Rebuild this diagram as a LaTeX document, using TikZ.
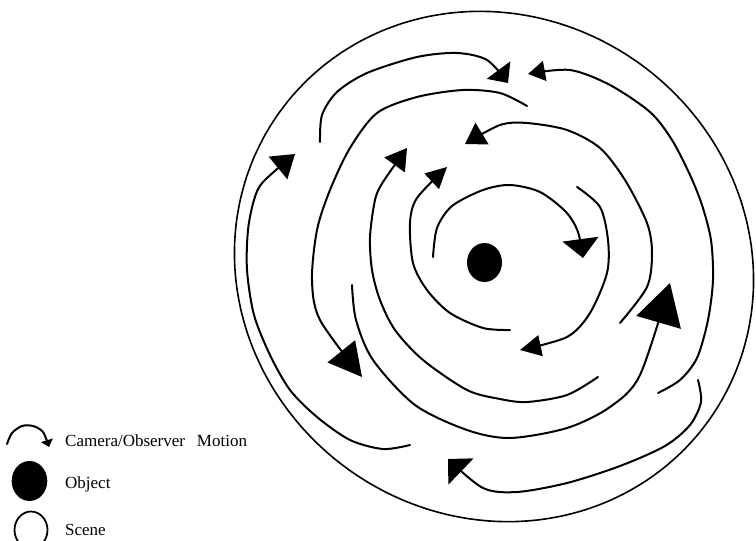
\documentclass[tikz,border=0pt]{standalone}
\usepackage{fontspec}
\setmainfont{Liberation Serif}
\usetikzlibrary{arrows.meta}

\begin{document}
\begin{tikzpicture}[x=1pt, y=-1pt,
    motion/.style={line width=2pt, line cap=round},
    tiphead/.style 2 args={-{Triangle[length=#1pt, width=#2pt]}},
    legendtext/.style={anchor=base west, inner sep=0pt, font=\fontsize{17}{20}\selectfont}]
  \useasboundingbox (0,0) rectangle (756,541);

  % scene
  \draw[line width=1.6pt] plot[smooth cycle, domain=0:355, samples=72, variable=\t]
    ({494+(258+7*cos(2*(\t-140)))*cos(\t)}, {266.5-(256+7*cos(2*(\t-140)))*sin(\t)});

  % object
  \fill (484.5,262.5) ellipse [x radius=17.5pt, y radius=19.5pt];

  % camera paths
  \draw[motion, tiphead={16}{29}] plot[smooth] coordinates {(320,142) (322,115) (337,92) (367,73) (417,57) (457,53) (487,60) (508,83)};
  \draw[motion, tiphead={17}{20}] plot[smooth] coordinates {(658,393) (680,380) (697,358) (708,320) (713,280) (711,240) (702,205) (690,175) (672,140) (650,112) (610,85) (570,70) (528,74)};
  \draw[motion, tiphead={33}{35}] plot[smooth] coordinates {(527,106) (500,93) (463,90) (417,97) (377,113) (350,148) (330,190) (317,230) (312,280) (320,320) (362,377)};
  \draw[motion, tiphead={22}{29}] plot[smooth] coordinates {(410,445) (383,449) (350,440) (317,417) (290,390) (270,355) (254,315) (247,270) (248,230) (254,200) (263,182) (295,154)};
  \draw[motion, tiphead={41}{46}] plot[smooth] coordinates {(352,285) (356,320) (373,360) (415,405) (467,430) (510,438) (567,428) (610,407) (640,375) (670,283)};
  \draw[motion, tiphead={21}{25}] plot[smooth] coordinates {(598,377) (567,395) (527,402) (500,399) (467,390) (423,360) (395,330) (380,300) (372,270) (370,237) (375,200) (383,182) (407,148)};
  \draw[motion, tiphead={18}{36}] plot[smooth] coordinates {(698,380) (701,402) (690,425) (665,446) (620,466) (567,483) (517,492) (483,488) (448,459)};
  \draw[motion, tiphead={21}{21}] plot[smooth] coordinates {(577,187) (600,207) (608,240) (607,273) (590,313) (567,337) (520,350)};
  \draw[motion, tiphead={19}{36}] plot[smooth] coordinates {(433,257) (437,228) (452,206) (483,190) (510,185) (540,192) (566,212) (578,232) (583,258)};
  \draw[motion, tiphead={20}{25}] plot[smooth] coordinates {(620,323) (647,287) (652,253) (647,223) (625,180) (600,148) (567,130) (527,123) (500,125) (465,144)};
  \draw[motion, tiphead={21}{21}] plot[smooth] coordinates {(510,330) (483,328) (450,313) (427,290) (413,263) (410,223) (417,198) (447,167)};

  % legend
  \draw[motion, tiphead={7}{12}] plot[smooth] coordinates {(7,444) (12,433) (22,426) (33,426) (43,432) (49,447)};
  \node[legendtext] (motionlbl) at (65,446) {Camera/Observer\hspace{0.7em}Motion};
  \fill (29.5,481) ellipse [x radius=17.8pt, y radius=20pt];
  \node[legendtext] (objectlbl) at (65,488) {Object};
  \draw[line width=1.8pt] (31,530) ellipse [x radius=16.5pt, y radius=18.5pt];
  \node[legendtext] (scenelbl) at (65,535) {Scene};
\end{tikzpicture}
\end{document}
